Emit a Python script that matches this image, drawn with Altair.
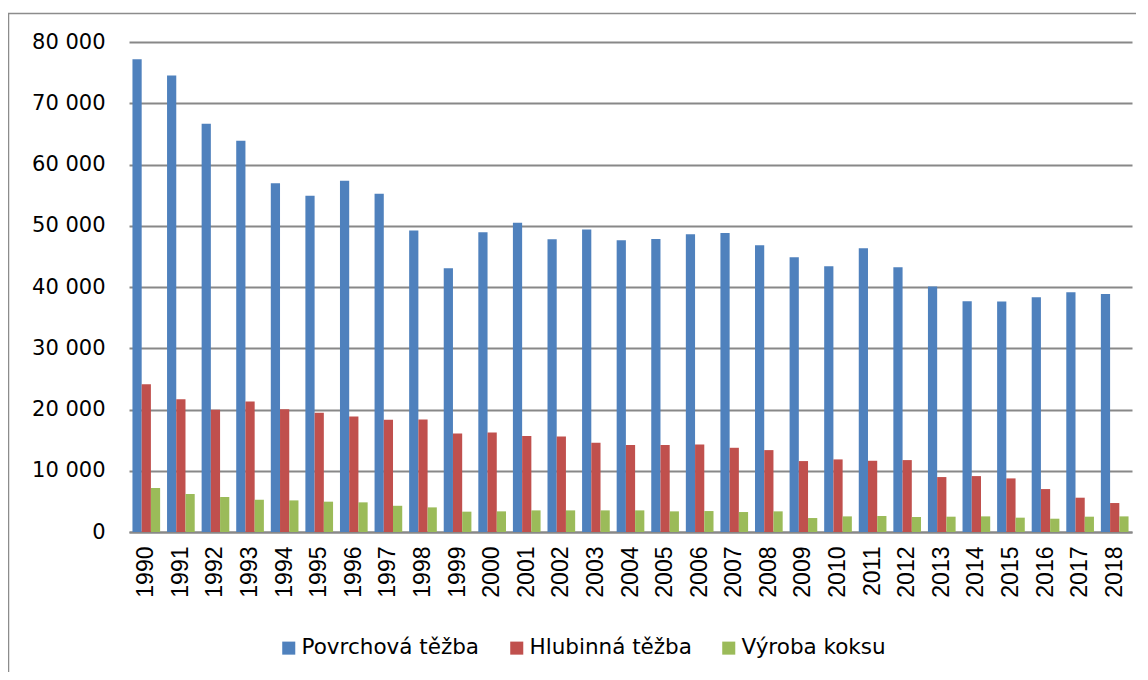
import altair as alt
import pandas as pd

years = [str(y) for y in range(1990, 2019)]
povrchova = [77200, 74540, 66660, 63890, 56920, 54910, 57360, 55240, 49210, 43060,
             48930, 50510, 47790, 49370, 47630, 47840, 48600, 48820, 46810, 44850,
             43380, 46320, 43220, 40070, 37680, 37630, 38330, 39140, 38870]
hlubinna = [24140, 21690, 19950, 21310, 20060, 19460, 18870, 18320, 18380, 16090,
            16260, 15660, 15600, 14570, 14190, 14190, 14300, 13750, 13370, 11580,
            11850, 11630, 11740, 8970, 9130, 8750, 7010, 5600, 4730]
koks = [7180, 6200, 5710, 5270, 5160, 4950, 4840, 4280, 4020, 3320,
        3370, 3530, 3530, 3530, 3530, 3370, 3420, 3260, 3370, 2280,
        2550, 2610, 2450, 2500, 2550, 2340, 2170, 2500, 2550]

series = ["Povrchová těžba", "Hlubinná těžba", "Výroba koksu"]
colors = ["#4F81BD", "#C0504D", "#9BBB59"]

rows = []
for i, y in enumerate(years):
    for s, vals in zip(series, [povrchova, hlubinna, koks]):
        rows.append({"rok": y, "serie": s, "hodnota": vals[i]})
df = pd.DataFrame(rows)

bars = alt.Chart(df).mark_bar().encode(
    x=alt.X("rok:N", sort=years,
            scale=alt.Scale(paddingInner=0.2, paddingOuter=0.1),
            axis=alt.Axis(title=None, labelAngle=270, ticks=False, grid=False,
                          domainColor="#888888", domainWidth=2,
                          labelFont="Liberation Sans", labelFontSize=23,
                          labelColor="#000000", labelPadding=14)),
    xOffset=alt.XOffset("serie:N", sort=series, scale=alt.Scale(domain=series)),
    y=alt.Y("hodnota:Q",
            scale=alt.Scale(domain=[0, 80000], nice=False),
            axis=alt.Axis(title=None, values=list(range(0, 80001, 10000)),
                          grid=True, gridColor="#888888", gridWidth=2,
                          domain=False, ticks=False, labelPadding=24,
                          labelFont="DejaVu Sans", labelFontSize=21,
                          labelColor="#000000",
                          labelExpr="replace(format(datum.value, ','), ',', ' ')")),
    color=alt.Color("serie:N", sort=series,
                    scale=alt.Scale(domain=series, range=colors),
                    legend=alt.Legend(title=None, orient="none", direction="horizontal",
                                      legendX=149, legendY=595,
                                      symbolType="square", symbolSize=170,
                                      symbolStrokeWidth=0,
                                      labelFont="DejaVu Sans", labelFontSize=21.5,
                                      labelColor="#000000", labelOffset=2,
                                      columnPadding=26, labelLimit=400)),
)

border = alt.Chart(alt.Data(values=[{}])).mark_rect(
    fill=None, stroke="#8c8c8c", strokeWidth=1.5
).encode(
    x=alt.value(-120.5), x2=alt.value(1300),
    y=alt.value(-28.5), y2=alt.value(900),
)

chart = alt.layer(bars, border).properties(
    width=1003, height=490,
    autosize=alt.AutoSizeParams(type="none"),
    padding={"left": 121, "top": 34, "right": 4, "bottom": 140},
).configure_view(stroke=None)

chart.save("out.html", embed_options={"renderer": "svg", "actions": False})
